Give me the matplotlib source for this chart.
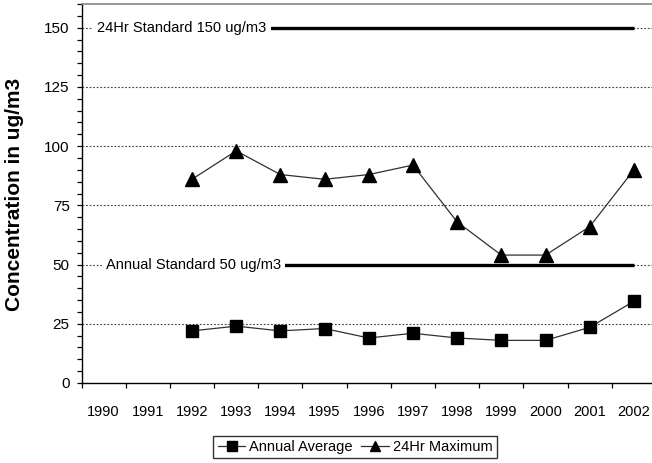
import matplotlib
matplotlib.use("Agg")
import matplotlib.pyplot as plt
import numpy as np

years = ["1990", "1991", "1992", "1993", "1994", "1995", "1996",
         "1997", "1998", "1999", "2000", "2001", "2002"]
data_years = years[2:]
annual_average = [22, 24, 22, 23, 19, 21, 19, 18, 18, 23.5, 34.5]
max_24hr = [86, 98, 88, 86, 88, 92, 68, 54, 54, 66, 90]
standard_24hr = 150
standard_annual = 50
y_ticks = [0, 25, 50, 75, 100, 125, 150]

plt.rcParams["font.family"] = ["Liberation Sans", "DejaVu Sans"]
FS = 10.5

W, H = 652, 463
fig = plt.figure(figsize=(W / 100, H / 100), dpi=100)
x0, x1, yb, yt = 81.5, 656.0, 383.0, 4.0
ax = fig.add_axes([x0 / W, (H - yb) / H, (x1 - x0) / W, (yb - yt) / H])

n = len(years)
centers = np.arange(n) + 0.5
pos = {y: c for y, c in zip(years, centers)}
xd = [pos[y] for y in data_years]

ax.set_xlim(0, n)
ax.set_ylim(0, 160)

# dotted horizontal gridlines
for v in y_ticks[1:]:
    ax.axhline(v, color="#444444", lw=0.8, ls=(0, (1.6, 1.6)), zorder=1)

# standard lines across the full range of years
ax.plot([centers[0], centers[-1]], [standard_24hr, standard_24hr],
        color="black", lw=2.4, solid_capstyle="butt", zorder=2)
ax.plot([centers[0], centers[-1]], [standard_annual, standard_annual],
        color="black", lw=2.4, solid_capstyle="butt", zorder=2)
ax.text(0.36, standard_24hr, "24Hr Standard 150 ug/m3", fontsize=FS,
        va="center", ha="left", zorder=3,
        bbox=dict(facecolor="white", edgecolor="none", pad=3))
ax.text(0.55, standard_annual, "Annual Standard 50 ug/m3", fontsize=FS,
        va="center", ha="left", zorder=3,
        bbox=dict(facecolor="white", edgecolor="none", pad=3))

# data series
l1, = ax.plot(xd, annual_average, color="#303030", lw=0.9, marker="s",
              markersize=9, markerfacecolor="black", markeredgecolor="black",
              label="Annual Average", zorder=4)
l2, = ax.plot(xd, max_24hr, color="#303030", lw=0.9, marker="^",
              markersize=10, markerfacecolor="black", markeredgecolor="black",
              label="24Hr Maximum", zorder=4)

# axes styling
ax.spines["right"].set_visible(False)
ax.spines["top"].set_color("#888888")
ax.spines["top"].set_linewidth(1.2)
ax.spines["left"].set_color("black")
ax.spines["bottom"].set_color("black")
ax.spines["left"].set_linewidth(1.0)
ax.spines["bottom"].set_linewidth(1.0)

ax.set_yticks(y_ticks)
ax.set_yticks(np.arange(0, 161, 5), minor=True)
ax.tick_params(axis="y", which="both", direction="out", length=3.5,
               width=0.9, labelsize=FS + 0.5, pad=5, colors="black")

ax.set_xticks(np.arange(0, n + 1))
ax.set_xticklabels([])
ax.set_xticks(centers, minor=True)
ax.set_xticklabels(years, minor=True)
ax.tick_params(axis="x", which="major", direction="out", length=3.5, width=0.9)
ax.tick_params(axis="x", which="minor", length=0, labelsize=FS, pad=16)

ax.set_ylabel("Concentration in ug/m3", fontsize=15, fontweight="bold")
ax.yaxis.set_label_coords((24 - x0) / (x1 - x0), (yb - 194) / (yb - yt))

leg = fig.legend(handles=[l1, l2], loc="center", bbox_to_anchor=(355 / W, 1 - 447 / H),
                 ncol=2, frameon=True, fancybox=False, fontsize=FS,
                 handlelength=1.9, handletextpad=0.25, columnspacing=0.6,
                 borderpad=0.3, markerscale=0.75)
leg.get_frame().set_edgecolor("black")
leg.get_frame().set_linewidth(1.0)

fig.savefig("out.png", dpi=100)
